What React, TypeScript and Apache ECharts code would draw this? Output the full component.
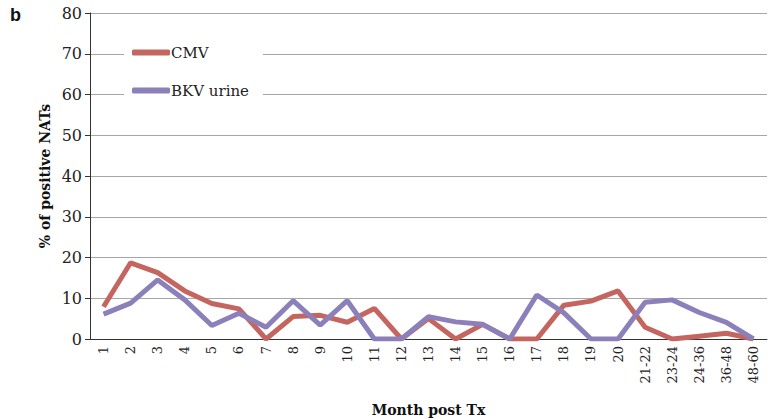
import React, { useEffect, useRef } from "react";
import * as echarts from "echarts";

const categories = [
  "1", "2", "3", "4", "5", "6", "7", "8", "9", "10",
  "11", "12", "13", "14", "15", "16", "17", "18", "19", "20",
  "21-22", "23-24", "24-36", "36-48", "48-60",
];
const cmv = [7.9, 18.7, 16.3, 11.8, 8.7, 7.4, 0, 5.5, 5.8, 4.1, 7.5, 0, 5.0, 0, 3.6, 0, 0, 8.3, 9.3, 11.8, 2.9, 0, 0.7, 1.4, 0];
const bkv = [6.1, 8.8, 14.5, 9.6, 3.3, 6.3, 2.9, 9.4, 3.4, 9.4, 0, 0, 5.5, 4.2, 3.6, 0, 10.8, 6.4, 0, 0, 9.0, 9.6, 6.5, 4.1, 0];
const yTicks = { min: 0, max: 80, interval: 10 };

const SERIF = "'DejaVu Serif', serif";

export default function App() {
  const ref = useRef<HTMLDivElement>(null);
  useEffect(() => {
    if (!ref.current) return;
    const chart = echarts.init(ref.current, null, { renderer: "svg" });
    chart.setOption({
      animation: false,
      backgroundColor: "#fff",
      grid: { left: 90, right: 3, top: 13, bottom: 81, containLabel: false, outerBoundsMode: "none" },
      graphic: [
        {
          type: "text",
          left: 10,
          top: 6,
          style: { text: "b", font: "bold 18px 'Liberation Sans', Arial, sans-serif", fill: "#111" },
        },
      ],
      legend: {
        left: 124,
        top: 38,
        orient: "vertical",
        backgroundColor: "#fff",
        padding: [7, 14, 7, 8],
        itemGap: 23,
        itemWidth: 38,
        itemHeight: 6,
        icon: "roundRect",
        textStyle: { fontFamily: SERIF, fontSize: 15, color: "#222", padding: [0, 0, 0, -4] },
        data: ["CMV", "BKV urine"],
      },
      xAxis: {
        type: "category",
        data: categories,
        boundaryGap: true,
        name: "Month post Tx",
        nameLocation: "middle",
        nameGap: 64,
        nameMoveOverlap: false,
        nameTextStyle: { fontFamily: SERIF, fontSize: 14, fontWeight: "bold", color: "#111" },
        axisLine: { lineStyle: { color: "#333", width: 1 } },
        axisTick: { alignWithLabel: false, length: 5, lineStyle: { color: "#333" } },
        axisLabel: {
          rotate: 90,
          interval: 0,
          fontFamily: SERIF,
          fontSize: 13,
          color: "#222",
          margin: 7,
        },
        splitLine: { show: false },
      },
      yAxis: {
        type: "value",
        min: yTicks.min,
        max: yTicks.max,
        interval: yTicks.interval,
        name: "% of positive NATs",
        nameLocation: "middle",
        nameGap: 38,
        nameMoveOverlap: false,
        nameTextStyle: { fontFamily: SERIF, fontSize: 14, fontWeight: "bold", color: "#111" },
        axisLine: { show: true, lineStyle: { color: "#333", width: 1 } },
        axisTick: { show: true, length: 5, lineStyle: { color: "#333" } },
        axisLabel: { fontFamily: SERIF, fontSize: 16, color: "#222", margin: 8 },
        splitLine: { show: true, lineStyle: { color: "#a6a6a6", width: 1 } },
      },
      series: [
        {
          name: "CMV",
          type: "line",
          data: cmv,
          symbol: "none",
          color: "#C4665F",
          lineStyle: { width: 5, color: "#C4665F" },
          itemStyle: { color: "#C4665F" },
        },
        {
          name: "BKV urine",
          type: "line",
          data: bkv,
          symbol: "none",
          color: "#8C80BA",
          lineStyle: { width: 5, color: "#8C80BA" },
          itemStyle: { color: "#8C80BA" },
        },
      ],
    });
    return () => chart.dispose();
  }, []);
  return (
    <div
      ref={ref}
      style={{ position: "fixed", left: 0, top: 0, width: 770, height: 420, background: "#fff" }}
    />
  );
}
